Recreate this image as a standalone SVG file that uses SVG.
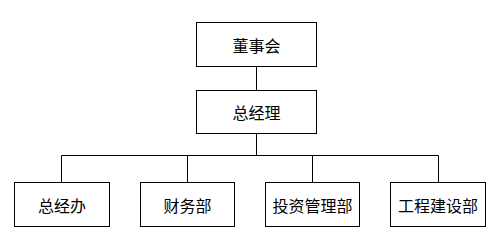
<svg xmlns="http://www.w3.org/2000/svg" width="500" height="250" viewBox="0 0 500 250">
<style>
.box{fill:#fff;stroke:#000;stroke-width:1}
.lbl{font-family:"Noto Sans CJK SC","Liberation Sans",sans-serif;font-size:16px;fill:#000;text-anchor:middle;dominant-baseline:central}
.conn{fill:none;stroke:#000;stroke-width:1}
</style>
<rect width="500" height="250" fill="#fff"/>
<g id="connectors">
<path class="conn" d="M256.5 66.5V90.5"/>
<path class="conn" d="M256.5 133.5V155.5"/>
<path class="conn" d="M61.5 182.5V155.5H438.5V182.5"/>
<path class="conn" d="M187.5 155.5V182.5"/>
<path class="conn" d="M312.5 155.5V182.5"/>
</g>
<g id="n1"><rect class="box" x="196.5" y="22.5" width="120" height="44"/><text class="lbl" x="256.5" y="45">董事会</text></g>
<g id="n2"><rect class="box" x="196.5" y="90.5" width="120" height="43"/><text class="lbl" x="256.5" y="112">总经理</text></g>
<g id="n3"><rect class="box" x="14.5" y="182.5" width="95" height="44"/><text class="lbl" x="62" y="205">总经办</text></g>
<g id="n4"><rect class="box" x="140.5" y="182.5" width="94" height="44"/><text class="lbl" x="187.5" y="205">财务部</text></g>
<g id="n5"><rect class="box" x="265.5" y="182.5" width="94" height="44"/><text class="lbl" x="312.5" y="205">投资管理部</text></g>
<g id="n6"><rect class="box" x="390.5" y="182.5" width="95" height="44"/><text class="lbl" x="438" y="205">工程建设部</text></g>
</svg>
